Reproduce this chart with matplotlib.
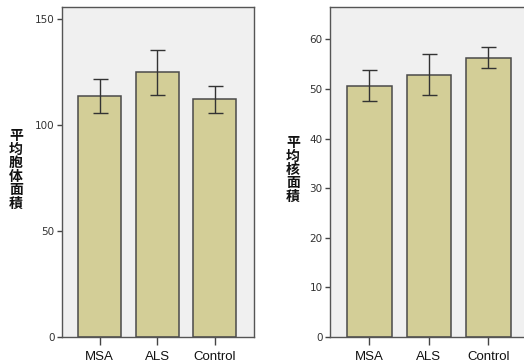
import matplotlib
matplotlib.use("Agg")
import matplotlib.pyplot as plt
import numpy as np

categories = ["MSA", "ALS", "Control"]
soma_mean = [113.7, 125.0, 112.1]
soma_low = [105.8, 114.3, 105.8]
soma_high = [121.5, 135.5, 118.2]
nuc_mean = [50.6, 52.8, 56.3]
nuc_low = [47.5, 48.7, 54.2]
nuc_high = [53.8, 57.0, 58.5]
soma_ticks = [0, 50, 100, 150]
nuc_ticks = [0, 10, 20, 30, 40, 50, 60]
soma_label = "平均胞体面積"
nuc_label = "平均核面積"

W, H = 524, 364
fig = plt.figure(figsize=(W / 100, H / 100), dpi=100)
fig.patch.set_facecolor("white")

bar_color = "#d3ce97"
edge_color = "#4a4a4a"
bg = "#f0f0f0"


def px_axes(x0, x1, ytop, ybot):
    return fig.add_axes([x0 / W, (H - ybot) / H, (x1 - x0) / W, (ybot - ytop) / H])


def draw(ax, mean, low, high, ticks, ymax, label, label_x):
    x = np.arange(len(categories))
    mean = np.array(mean)
    yerr = np.vstack([mean - np.array(low), np.array(high) - mean])
    ax.set_facecolor(bg)
    ax.bar(x, mean, width=0.75, color=bar_color, edgecolor=edge_color,
           linewidth=1.1, zorder=2)
    ax.errorbar(x, mean, yerr=yerr, fmt="none", ecolor="#333333",
                elinewidth=1.0, capsize=5.4, capthick=1.0, zorder=3)
    ax.set_xlim(-0.655, 2.687)
    ax.set_ylim(0, ymax)
    ax.set_yticks(ticks)
    ax.set_yticklabels([str(t) for t in ticks], fontsize=7.5,
                       family="DejaVu Sans", color="#333333")
    ax.set_xticks(x)
    ax.set_xticklabels(categories, fontsize=9.5, family="Liberation Sans",
                       color="#111111")
    ax.tick_params(axis="y", direction="out", length=3.8, width=1.0,
                   color="#444444", pad=1.5)
    ax.tick_params(axis="x", direction="out", length=5.8, width=1.0,
                   color="#444444", pad=4)
    for s in ax.spines.values():
        s.set_color("#555555")
        s.set_linewidth(1.0)
    fig.text(label_x / W, (H - 170) / H, "\n".join(label),
             family=["Noto Sans CJK SC", "DejaVu Sans"], fontsize=10,
             fontweight="bold", ha="center", va="center", linespacing=0.95,
             color="#111111")


ax1 = px_axes(62, 254, 7, 337)
draw(ax1, soma_mean, soma_low, soma_high, soma_ticks, 155.7, soma_label, 16)

ax2 = px_axes(330, 536, 7, 337)
draw(ax2, nuc_mean, nuc_low, nuc_high, nuc_ticks, 66.5, nuc_label, 293)
ax2.set_xlim(-0.664, 2.80)

fig.savefig("out.png", dpi=100, facecolor="white")
